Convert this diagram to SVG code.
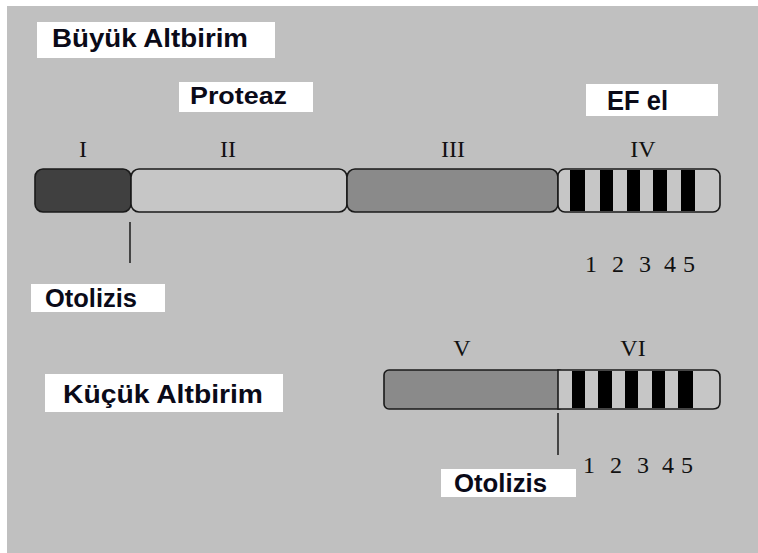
<svg xmlns="http://www.w3.org/2000/svg" width="758" height="553" viewBox="0 0 758 553">
<style>
.lbl{font-family:"Liberation Sans",Arial,sans-serif;font-weight:bold;fill:#0a0a18}
.rom{font-family:"Liberation Serif","Times New Roman",serif;font-size:24px;fill:#111;text-anchor:middle}
.dig{font-family:"Liberation Serif","Times New Roman",serif;font-size:24px;fill:#111}
.box{fill:#ffffff}
.seg{stroke:#1a1a1a;stroke-width:1.6}
.stripe{fill:#000}
.conn{stroke:#111;stroke-width:1.4;fill:none}
</style>
<rect x="0" y="0" width="758" height="553" fill="#ffffff"/>
<rect x="7" y="6" width="751" height="547" fill="#c0c0c0"/>

<g id="label-buyuk">
<rect class="box" x="37" y="22" width="238" height="36"/>
<text class="lbl" x="52" y="47" font-size="26" textLength="196" lengthAdjust="spacingAndGlyphs">Büyük Altbirim</text>
</g>
<g id="label-proteaz">
<rect class="box" x="179" y="82" width="134" height="30"/>
<text class="lbl" x="190" y="104" font-size="24" textLength="97" lengthAdjust="spacingAndGlyphs">Proteaz</text>
</g>
<g id="label-efel">
<rect class="box" x="586" y="84" width="132" height="32"/>
<text class="lbl" x="607" y="110" font-size="27" font-weight="normal" textLength="61" lengthAdjust="spacingAndGlyphs">EF el</text>
</g>

<g id="large-subunit">
<rect id="seg-I" class="seg" x="35" y="169" width="96" height="43" rx="8" fill="#404040"/>
<rect id="seg-II" class="seg" x="131" y="169" width="216" height="43" rx="8" fill="#c6c6c6"/>
<rect id="seg-III" class="seg" x="347" y="169" width="211" height="43" rx="8" fill="#8a8a8a"/>
<g id="seg-IV">
<rect class="seg" x="558" y="169" width="162" height="43" rx="7" fill="#c6c6c6"/>
<rect class="stripe" x="570" y="170" width="15" height="41"/>
<rect class="stripe" x="600" y="170" width="13" height="41"/>
<rect class="stripe" x="627" y="170" width="13" height="41"/>
<rect class="stripe" x="653" y="170" width="14" height="41"/>
<rect class="stripe" x="681" y="170" width="14" height="41"/>
</g>
<text class="rom" x="83" y="157">I</text>
<text class="rom" x="228" y="157">II</text>
<text class="rom" x="453" y="157">III</text>
<text class="rom" x="643" y="157">IV</text>
<text class="dig" x="585" y="272">1</text>
<text class="dig" x="612" y="272">2</text>
<text class="dig" x="639" y="272">3</text>
<text class="dig" x="664" y="272">4</text>
<text class="dig" x="683" y="272">5</text>
</g>

<g id="label-otolizis-1">
<rect class="box" x="31" y="284" width="134" height="28"/>
<text class="lbl" x="45" y="307" font-size="25" textLength="92" lengthAdjust="spacingAndGlyphs">Otolizis</text>
</g>

<g id="label-kucuk">
<rect class="box" x="45" y="374" width="238" height="38"/>
<text class="lbl" x="63" y="403" font-size="26" textLength="200" lengthAdjust="spacingAndGlyphs">Küçük Altbirim</text>
</g>

<g id="small-subunit">
<rect id="seg-V" class="seg" x="384" y="370" width="180" height="39" rx="5" fill="#8a8a8a"/>
<g id="seg-VI">
<path class="seg" d="M558,370 H713 Q720,370 720,377 V402 Q720,409 713,409 H558 Z" fill="#c6c6c6"/>
<rect class="stripe" x="572" y="371" width="13" height="37"/>
<rect class="stripe" x="598" y="371" width="14" height="37"/>
<rect class="stripe" x="625" y="371" width="13" height="37"/>
<rect class="stripe" x="652" y="371" width="13" height="37"/>
<rect class="stripe" x="678" y="371" width="15" height="37"/>
</g>
<text class="rom" x="462" y="356">V</text>
<text class="rom" x="633" y="356">VI</text>
<text class="dig" x="583" y="473">1</text>
<text class="dig" x="610" y="473">2</text>
<text class="dig" x="637" y="473">3</text>
<text class="dig" x="662" y="473">4</text>
<text class="dig" x="681" y="473">5</text>
</g>

<g id="label-otolizis-2">
<rect class="box" x="441" y="469" width="135" height="28"/>
<text class="lbl" x="454" y="492" font-size="25" textLength="93" lengthAdjust="spacingAndGlyphs">Otolizis</text>
</g>

<g id="connectors">
<line class="conn" x1="130" y1="222" x2="130" y2="263"/>
<line class="conn" x1="558" y1="413" x2="558" y2="455"/>
</g>
</svg>
